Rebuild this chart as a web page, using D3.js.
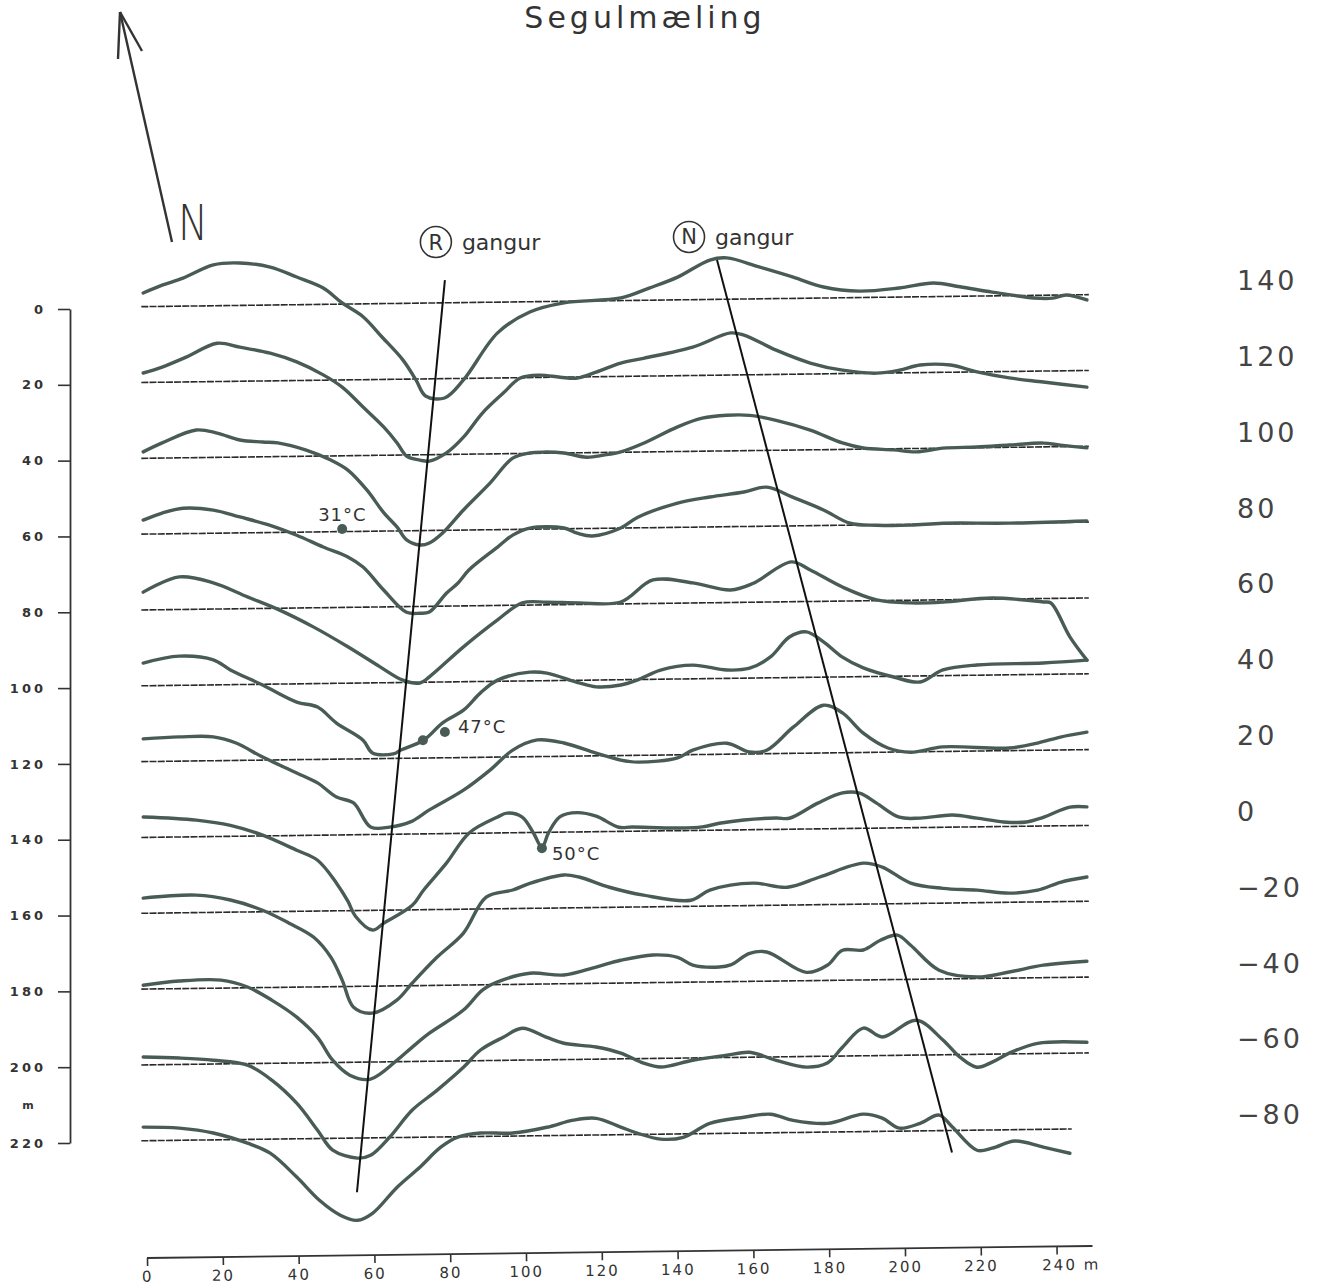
<!DOCTYPE html>
<html>
<head>
<meta charset="utf-8">
<script src="https://d3js.org/d3.v7.min.js"></script>
<style>
html, body { margin:0; padding:0; background:#fff; }
svg { display:block; background:#fff; }
</style>
</head>
<body>
<svg class="svg"></svg>
<script>
const W = 1317, H = 1285;

// survey lines (m north) and the field curve on each: [distance along line m, reading]
const lines = [0, 20, 40, 60, 80, 100, 120, 140, 160, 180, 200, 220];
const lineEnd = [248.5, 248.5, 248.5, 248.5, 248.5, 248.5, 248.5, 248.5, 248.5, 248.5, 248.5, 244];

const p0 = [[-1,3.6],[4,5.6],[9.5,7.4],[17.5,10.8],[24.5,11.2],[32.5,10],[39.5,7.3],[46.5,4.3],[51.5,0.3],[57,-3.4],[62,-8.8],[67.5,-14.9],[71,-20.3],[73.5,-24.5],[78.5,-25.1],[83.5,-20.4],[92.5,-8.1],[101,-2.7],[110,-0.4],[125,0.7],[132.5,3.2],[140,6],[148.5,10.4],[153,10.9],[161.5,8.4],[170.5,5.6],[178.5,2.9],[188,1.7],[198.5,2.4],[207.5,3.6],[214.5,2.5],[223,1],[234,-0.7],[239,-0.8],[242.5,0],[248,-1.4]];
const p1 = [[-1,2.5],[4,4],[10.5,6.6],[18.5,10.1],[24.5,9],[32.5,7.3],[39.5,4.9],[46.5,1.4],[51.5,-1.9],[57,-7.2],[62.5,-12.6],[66,-16.8],[68.5,-20.3],[72,-21.4],[74.5,-21.7],[79,-19.6],[83.5,-15.5],[88.5,-9.2],[94,-4],[98.5,-0.1],[103.5,0.6],[109,0],[113.5,-0.3],[118.5,1.2],[125,3.5],[131,4.7],[144,7.5],[154,11.1],[157.5,10.5],[166,6.4],[175,2.9],[183.5,0.9],[192.5,0],[198.5,0.7],[204,2],[212,1.9],[219,0],[227.5,-1.7],[236.5,-2.9],[248,-4.4]];
const p2 = [[-1,1.7],[4,4],[13,7.3],[18.5,6.4],[24.5,4.5],[30.5,3.9],[34.5,3.6],[42,1.6],[48.5,-1.1],[53,-3.8],[58,-9.1],[62.5,-15.2],[66,-19],[68.5,-22.4],[72,-23.8],[74.5,-23.3],[78,-20.7],[83.5,-14.7],[90.5,-7.7],[96.5,-1.2],[101,0.1],[104.5,0.3],[110,0],[116,-1.2],[120.5,-0.7],[125,0.1],[131,2.3],[140,6.5],[146.5,8.7],[153,9.4],[159,9.3],[166,7.9],[175,5.2],[183.5,1.7],[189,0.3],[197,-0.3],[203,-0.9],[210,0],[219,0.2],[227.5,0.6],[236.5,1],[241,0.4],[248,-0.4]];
const p3 = [[-1,3.7],[4,5.5],[9.5,6.7],[17.5,6.1],[24.5,4.2],[32.5,1.9],[39.5,-0.8],[46.5,-4],[53,-6.7],[57,-9.4],[62.5,-15.6],[68.5,-21.5],[72,-21.8],[74.5,-21.5],[79,-16.6],[82,-14],[85,-10.5],[92.5,-4.6],[96.5,-1.5],[101,0.3],[110,0.2],[113.5,-1.2],[117.5,-2],[125,0],[129.5,2.8],[140,6.4],[148.5,7.9],[157.5,9.1],[163.5,10.3],[170.5,7.5],[178.5,4.1],[185.5,0.5],[192.5,-0.1],[201.5,-0.2],[210,0.2],[227.5,0],[248,0.3]];
const p4 = [[-1,4.7],[8.5,8.6],[17.5,6.9],[26.5,3.1],[35,-0.5],[44,-5.1],[53,-10.4],[61.5,-15.8],[67.5,-19.4],[72,-20.2],[74.5,-18.6],[83.5,-10.8],[92.5,-3.8],[99,0.6],[105.5,0.7],[114,0.4],[125,0.5],[133.5,6.2],[144,5.3],[154,3.3],[160,5],[170,10.5],[175,8.3],[183.5,3.7],[192.5,0.2],[201.5,-0.7],[210,-0.6],[223,0.3],[236.5,-0.9],[238.5,-1.2],[243.5,-10.2],[248,-16.4]];
const p5 = [[-1,6],[8.5,7.7],[17.5,6.6],[22,3.9],[30.5,-0.2],[39.5,-4.8],[45,-6.2],[50,-10.5],[57,-15.1],[59.5,-18.5],[65,-18.8],[67,-17.8],[73,-15.3],[78,-10.8],[83.5,-7.5],[88,-3],[92.5,0.3],[101,2.3],[105.5,2],[114,-0.7],[118.5,-1.8],[125,-1.4],[129.5,-0.1],[135.5,2.4],[144,3.6],[153,2.2],[159,2.6],[164.5,5.5],[169.5,10.7],[174,12],[178.5,9.3],[183.5,5.2],[189,2.3],[197,-0.2],[204,-1.6],[210,1.5],[219,2.7],[236.5,3],[248,3.6]];
const p6 = [[-1,6],[8.5,6.4],[17.5,6.3],[23.5,4.6],[30.5,0.8],[39.5,-3.5],[45,-6.2],[50,-10],[54.5,-11.6],[59,-18],[64,-18.1],[69.5,-16.8],[74.5,-13.7],[83.5,-8.6],[90.5,-3.4],[96.5,1.8],[103,4.4],[110,3.5],[118.5,0.7],[125,-1.2],[129.5,-1.8],[140,-0.8],[144,1.2],[153,2.9],[159,0.5],[163.5,0.9],[170.5,6.9],[178.5,12.6],[183.5,10.5],[189,5.1],[195.5,1.1],[201.5,-0.1],[210,1.2],[227.5,0.7],[235,1.9],[241,3.4],[248,4.6]];
const p7 = [[-1,5.4],[13,4.4],[22,2.9],[30.5,0.2],[39.5,-3.9],[45,-6.6],[50,-12.7],[53,-17.5],[55,-21.5],[59.5,-25.2],[62.5,-23.4],[70,-18.8],[73,-14.8],[79,-7.8],[85,0.1],[92.5,4.2],[95,5.2],[99,4.1],[102,-0.2],[104.2,-3.9],[106,0],[109,4.1],[113.5,5.1],[118.5,4.1],[124.5,1.1],[128,1.1],[140,0.7],[146.5,0.9],[151,1.8],[157.5,2.6],[166,3],[169.5,2.9],[177,6.8],[183.5,9.4],[188,9.3],[192.5,6.6],[198.5,2.8],[204,2.5],[212.5,3.2],[219,2.3],[226,1.2],[232,1.1],[236.5,2.3],[243.5,4.9],[248,4.9]];
const p8 = [[-1,4],[13,4.6],[22,3.2],[30.5,0.4],[37.5,-3.1],[44,-6.9],[48.5,-12.2],[51.5,-18.3],[54.5,-25.5],[59.5,-27.1],[66,-23.7],[70,-19.3],[76.5,-12.6],[83.5,-6.3],[89.5,3.1],[96.5,4.9],[101,6.6],[110,8.7],[114,8.1],[122,5.3],[131,3.1],[143.5,1.6],[148.5,4.2],[160,5.9],[169,4.7],[177.5,7.3],[189,10.8],[194,9.7],[201.5,5.4],[210,3.9],[219,3.3],[227.5,2.4],[235,3.1],[241,5.1],[248,6.4]];
const p9 = [[-1,1],[8.5,2],[19.5,2.1],[26.5,0.2],[33,-3.4],[39.5,-7.9],[45,-13.3],[49,-19.4],[53.5,-23.4],[59,-24.5],[66,-19.6],[70,-16.2],[74.5,-12.6],[83.5,-6.6],[88.5,-1.4],[92.5,0.7],[101,2.9],[110,2.3],[118.5,4.3],[125,6],[133.5,7.3],[140,6.6],[144,4.5],[151,3.9],[154,4.4],[159,7.4],[163.5,7.7],[174,2.2],[179.5,4],[183.5,7.9],[189,7.9],[193.5,10.4],[198,11.7],[201.5,9],[209,2.3],[219,0.4],[227.5,1.6],[236.5,3.3],[248,4.2]];
const p10 = [[-1,2.1],[8.5,1.7],[17.5,1],[26.5,-0.4],[33,-4.5],[39.5,-10.6],[45,-17.8],[49,-23.1],[55.5,-25.3],[59,-24.6],[64,-19.9],[70,-12.8],[76.5,-7.7],[83.5,-1.7],[88,2.8],[94,6.1],[99,8.4],[105.5,5.9],[110,4.3],[118.5,3.2],[125,1.5],[131,-1.2],[135.5,-2.3],[144,-0.6],[153,0.6],[159,1.3],[166,-0.9],[174,-2.8],[179.5,-1.8],[183.5,2.3],[189,7.3],[194,4.9],[203,9.2],[210,3.9],[214.5,-0.7],[219,-3.4],[223,-2.1],[227.5,0.2],[235,2.7],[248,2.8]];
const p11 = [[-1,3.6],[8.5,3.2],[17.5,1.8],[26.5,-1],[32.5,-3.7],[39.5,-10.1],[45.5,-16.3],[51,-20.3],[55.5,-21.7],[59.5,-19.9],[66,-13.1],[72,-7.9],[77.5,-2.7],[82,-0.1],[88,0.9],[96.5,0.8],[105.5,2.2],[112.5,4],[118.5,4.4],[125,2],[129.5,0.3],[135.5,-1.3],[141.5,-0.9],[148.5,2.7],[157.5,4.2],[164.5,4.9],[170.5,3.2],[179.5,2.3],[189,4.6],[194,3.5],[198.5,0.8],[204,2],[209,4.1],[212.5,0.9],[219,-5.3],[223,-4.8],[229,-3],[236.5,-4.7],[243.5,-6.4]];
const profiles = [p0, p1, p2, p3, p4, p5, p6, p7, p8, p9, p10, p11];

// dykes traced across the lines: [distance m, north m]
const rGangur = [[78.6, -6], [55.4, 234.3]];
const nGangur = [[150.4, -10.4], [212.4, 225.8]];

// hot spots
const temps = [
  {x: 51.5, y: 59.3, label: "31°C", dx: -24, dy: -8},
  {x: 72.8, y: 115.3, label: "", dx: 0, dy: 0},
  {x: 78.6, y: 113.2, label: "47°C", dx: 13, dy: 1},
  {x: 104.2, y: 144.2, label: "50°C", dx: 10, dy: 12}
];

const xTicks = d3.range(0, 241, 20);
const yTicks = d3.range(0, 221, 20);
const scaleTicks = [140, 120, 100, 80, 60, 40, 20, 0, -20, -40, -60, -80];

const ink = "#333";
const curveCol = "#485c55";

const svg = d3.select("svg").attr("width", W).attr("height", H);

const xScale = d3.scaleLinear().domain([0, 240]).range([147, 1056.6]);
const yScale = d3.scaleLinear().domain([0, 220]).range([306.6, 1140.7]);
const tilt = 0.0127;   // the old sheet sits a little skew
const X = m => xScale(m);
const Y = (m, n) => yScale(n) - tilt * (xScale(m) - xScale(0));

// baselines
svg.append("g").selectAll("line")
  .data(lines)
  .enter().append("line")
  .attr("x1", X(-1.5)).attr("y1", d => Y(-1.5, d))
  .attr("x2", (d, i) => X(lineEnd[i])).attr("y2", (d, i) => Y(lineEnd[i], d))
  .attr("stroke", "#2a2a2a")
  .attr("stroke-width", 1.6)
  .attr("stroke-dasharray", "7 1.2");

// field curves
const line = d3.line().curve(d3.curveCatmullRom.alpha(0.5));
svg.append("g").selectAll("path")
  .data(profiles)
  .enter().append("path")
  .attr("d", (p, i) => line(p.map(d => [X(d[0]), Y(d[0], lines[i] - d[1])])))
  .attr("fill", "none")
  .attr("stroke", curveCol)
  .attr("stroke-width", 3.4)
  .attr("stroke-linejoin", "round")
  .attr("stroke-linecap", "round");

// dykes
[rGangur, nGangur].forEach(g => {
  svg.append("line")
    .attr("x1", X(g[0][0])).attr("y1", Y(g[0][0], g[0][1]))
    .attr("x2", X(g[1][0])).attr("y2", Y(g[1][0], g[1][1]))
    .attr("stroke", "#111").attr("stroke-width", 2);
});

// dyke labels
function dykeLabel(g, letter, dx, dy) {
  const cx = X(g[0][0]) + dx, cy = Y(g[0][0], g[0][1]) + dy;
  svg.append("circle").attr("cx", cx).attr("cy", cy).attr("r", 15.5)
    .attr("fill", "none").attr("stroke", ink).attr("stroke-width", 1.6);
  svg.append("text").attr("x", cx).attr("y", cy + 7.5)
    .attr("text-anchor", "middle")
    .style("font", "21px 'DejaVu Sans'").style("fill", ink)
    .text(letter);
  svg.append("text").attr("x", cx + 26).attr("y", cy + 8)
    .style("font", "22px 'DejaVu Sans'").style("fill", ink)
    .text("gangur");
}
dykeLabel(rGangur, "R", -9, -38);
dykeLabel(nGangur, "N", -28, -23);

// hot spot dots
svg.append("g").selectAll("circle")
  .data(temps)
  .enter().append("circle")
  .attr("cx", d => X(d.x)).attr("cy", d => Y(d.x, d.y))
  .attr("r", 5).attr("fill", curveCol);

svg.append("g").selectAll("text")
  .data(temps.filter(d => d.label))
  .enter().append("text")
  .attr("x", d => X(d.x) + d.dx).attr("y", d => Y(d.x, d.y) + d.dy)
  .style("font", "18px 'DejaVu Sans'").style("letter-spacing", "1px")
  .style("fill", ink)
  .text(d => d.label);

// left distance axis
const yAxisScale = d3.scaleLinear().domain([0, 220]).range([309, 1143]);
const yAxisG = svg.append("g")
  .attr("transform", "translate(70,0)")
  .call(d3.axisLeft(yAxisScale).tickValues(yTicks).tickSize(12).tickPadding(12).tickSizeOuter(0));
yAxisG.select(".domain").attr("stroke", ink).attr("stroke-width", 1.8);
yAxisG.selectAll(".tick line").attr("stroke", ink).attr("stroke-width", 1.6);
yAxisG.selectAll(".tick text")
  .style("font", "bold 13px 'DejaVu Sans'").style("letter-spacing", "3px")
  .style("fill", ink);
svg.append("text").attr("x", 28).attr("y", 1109)
  .attr("text-anchor", "middle")
  .style("font", "bold 11px 'DejaVu Sans'").style("fill", ink)
  .text("m");

// bottom distance axis
const xAxisG = svg.append("g")
  .attr("transform", "translate(0,1258) rotate(" + (-Math.atan(tilt) * 180 / Math.PI) + "," + X(0) + ",0)")
  .call(d3.axisBottom(xScale).tickValues(xTicks).tickSize(8).tickPadding(5).tickSizeOuter(0)
    .tickFormat(d => d === 240 ? "240 m" : d));
xAxisG.select(".domain").remove();
xAxisG.append("line").attr("x1", X(0)).attr("x2", X(249.5))
  .attr("stroke", ink).attr("stroke-width", 1.8);
xAxisG.selectAll(".tick line").attr("stroke", ink).attr("stroke-width", 1.6);
xAxisG.selectAll(".tick text")
  .style("font", "15px 'DejaVu Sans'").style("letter-spacing", "2px")
  .style("fill", ink);
xAxisG.selectAll(".tick text").filter(d => d === 240)
  .attr("text-anchor", "start").attr("dx", -15);

// right scale
const rScale = d3.scaleLinear().domain([140, -80]).range([281, 1115]);
const rAxisG = svg.append("g")
  .attr("transform", "translate(1237,0)")
  .call(d3.axisRight(rScale).tickValues(scaleTicks).tickSize(0).tickPadding(0));
rAxisG.select(".domain").remove();
rAxisG.selectAll(".tick text")
  .style("font", "27px 'DejaVu Sans'").style("letter-spacing", "3px")
  .style("fill", "#444");

// title
svg.append("text").attr("x", 645).attr("y", 28)
  .attr("text-anchor", "middle")
  .style("font", "30px 'DejaVu Sans'").style("letter-spacing", "4px")
  .style("fill", ink)
  .text("Segulmæling");

// north arrow
const arrow = svg.append("g").attr("stroke", ink).attr("stroke-width", 2.4).attr("fill", "none");
arrow.append("line").attr("x1", 120).attr("y1", 12).attr("x2", 172).attr("y2", 242);
arrow.append("line").attr("x1", 120).attr("y1", 12).attr("x2", 118).attr("y2", 59);
arrow.append("line").attr("x1", 120).attr("y1", 12).attr("x2", 142).attr("y2", 51);
svg.append("text").attr("x", 178).attr("y", 240)
  .attr("textLength", 30).attr("lengthAdjust", "spacingAndGlyphs")
  .style("font", "300 50px 'DejaVu Sans'").style("fill", ink)
  .text("N");
</script>
</body>
</html>
